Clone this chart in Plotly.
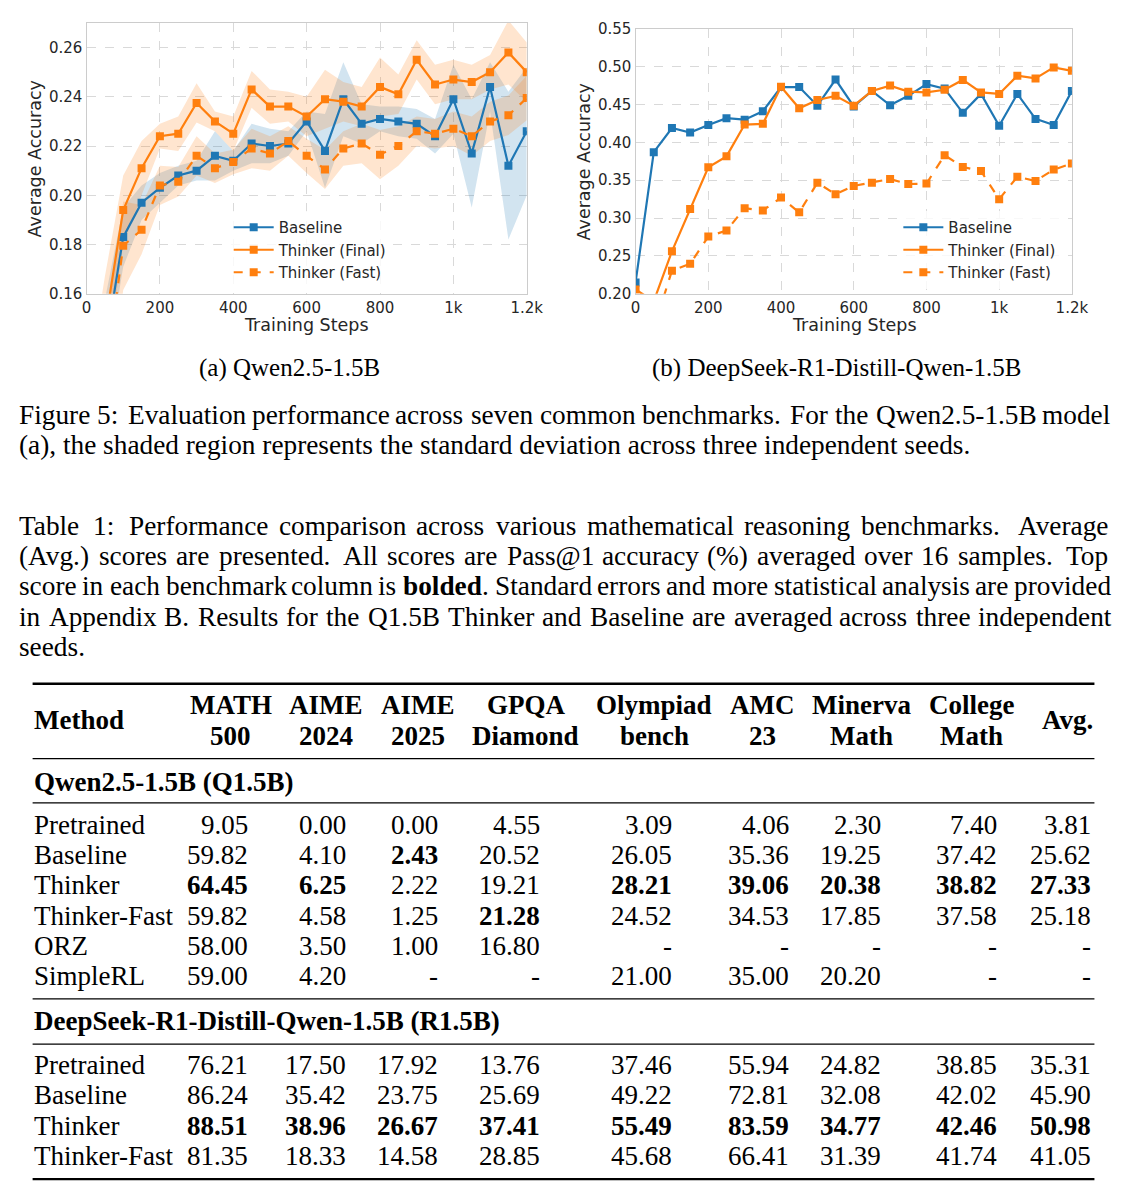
import numpy as np
import plotly.graph_objects as go

# target picture is 1141x1203; the page body has an 8px margin, so the
# figure is made 16px smaller and every position is shifted by 8px.
W, H = 1141, 1203
OFF = 8
FW, FH = W - 2 * OFF, H - 2 * OFF

# ---------------- data: charts ----------------
steps = [0, 50, 100, 150, 200, 250, 300, 350, 400, 450, 500, 550, 600,
         650, 700, 750, 800, 850, 900, 950, 1000, 1050, 1100, 1150, 1200]
x_tickvals = [0, 200, 400, 600, 800, 1000, 1200]
x_ticktext = ["0", "200", "400", "600", "800", "1k", "1.2k"]

# (a) Qwen2.5-1.5B
qa_baseline = [0.100, 0.137, 0.183, 0.197, 0.203, 0.208, 0.210, 0.216, 0.214, 0.221, 0.220, 0.221, 0.230,
               0.218, 0.239, 0.229, 0.231, 0.230, 0.229, 0.224, 0.239, 0.217, 0.244, 0.212, 0.226]
qa_final = [0.100, 0.147, 0.194, 0.211, 0.224, 0.225, 0.2375, 0.230, 0.225, 0.243, 0.236, 0.236, 0.232,
            0.239, 0.238, 0.236, 0.244, 0.241, 0.255, 0.245, 0.247, 0.246, 0.250, 0.258, 0.250]
qa_fast = [0.100, 0.123, 0.1795, 0.186, 0.204, 0.2055, 0.216, 0.211, 0.2135, 0.219, 0.217, 0.222, 0.216,
           0.2105, 0.219, 0.221, 0.2165, 0.220, 0.226, 0.225, 0.227, 0.224, 0.230, 0.2325, 0.2395]
qa_baseline_std = [0.02, 0.02, 0.012, 0.007, 0.006, 0.004, 0.004, 0.010, 0.004, 0.008, 0.007, 0.005, 0.004,
                   0.015, 0.015, 0.008, 0.005, 0.006, 0.006, 0.007, 0.014, 0.022, 0.010, 0.030, 0.026]
qa_final_std = [0.02, 0.02, 0.014, 0.011, 0.005, 0.007, 0.008, 0.004, 0.007, 0.0075, 0.007, 0.006, 0.008,
                0.012, 0.008, 0.008, 0.012, 0.008, 0.008, 0.008, 0.008, 0.007, 0.007, 0.013, 0.012]
qa_fast_std = [0.02, 0.02, 0.018, 0.010, 0.008, 0.006, 0.008, 0.006, 0.005, 0.008, 0.007, 0.006, 0.007,
               0.008, 0.007, 0.008, 0.010, 0.008, 0.006, 0.006, 0.007, 0.008, 0.008, 0.008, 0.009]
qa_yticks = [0.16, 0.18, 0.20, 0.22, 0.24, 0.26]

# (b) DeepSeek-R1-Distill-Qwen-1.5B
rb_baseline = [0.215, 0.387, 0.419, 0.413, 0.423, 0.432, 0.430, 0.441, 0.473, 0.473, 0.4485, 0.483, 0.4475,
               0.468, 0.449, 0.4615, 0.477, 0.471, 0.439, 0.464, 0.422, 0.464, 0.431, 0.423, 0.468]
rb_final = [0.2057, 0.190, 0.256, 0.312, 0.367, 0.3815, 0.4235, 0.4245, 0.4735, 0.445, 0.456, 0.4615, 0.4485,
            0.468, 0.475, 0.467, 0.466, 0.4695, 0.4825, 0.466, 0.464, 0.488, 0.4845, 0.499, 0.4945]
rb_fast = [0.140, 0.154, 0.2305, 0.2395, 0.2755, 0.2835, 0.313, 0.310, 0.327, 0.3075, 0.3465, 0.3315, 0.3425,
           0.3465, 0.3515, 0.345, 0.3455, 0.383, 0.3675, 0.362, 0.325, 0.3545, 0.349, 0.364, 0.372]
rb_yticks = [0.20, 0.25, 0.30, 0.35, 0.40, 0.45, 0.50, 0.55]

series_names = ["Baseline", "Thinker (Final)", "Thinker (Fast)"]

# ---------------- data: table ----------------
col_top = ["MATH", "AIME", "AIME", "GPQA", "Olympiad", "AMC", "Minerva", "College"]
col_bottom = ["500", "2024", "2025", "Diamond", "bench", "23", "Math", "Math"]
avg_label = "Avg."
group1_title = "Qwen2.5-1.5B (Q1.5B)"
group1_methods = ["Pretrained", "Baseline", "Thinker", "Thinker-Fast", "ORZ", "SimpleRL"]
group1_values = [
    [9.05, 0.00, 0.00, 4.55, 3.09, 4.06, 2.30, 7.40, 3.81],
    [59.82, 4.10, 2.43, 20.52, 26.05, 35.36, 19.25, 37.42, 25.62],
    [64.45, 6.25, 2.22, 19.21, 28.21, 39.06, 20.38, 38.82, 27.33],
    [59.82, 4.58, 1.25, 21.28, 24.52, 34.53, 17.85, 37.58, 25.18],
    [58.00, 3.50, 1.00, 16.80, None, None, None, None, None],
    [59.00, 4.20, None, None, 21.00, 35.00, 20.20, None, None],
]
group2_title = "DeepSeek-R1-Distill-Qwen-1.5B (R1.5B)"
group2_methods = ["Pretrained", "Baseline", "Thinker", "Thinker-Fast"]
group2_values = [
    [76.21, 17.50, 17.92, 13.76, 37.46, 55.94, 24.82, 38.85, 35.31],
    [86.24, 35.42, 23.75, 25.69, 49.22, 72.81, 32.08, 42.02, 45.90],
    [88.51, 38.96, 26.67, 37.41, 55.49, 83.59, 34.77, 42.46, 50.98],
    [81.35, 18.33, 14.58, 28.85, 45.68, 66.41, 31.39, 41.74, 41.05],
]

fig_caption = [
    "Figure 5: Evaluation performance across seven common benchmarks. For the Qwen2.5-1.5B model",
    "(a), the shaded region represents the standard deviation across three independent seeds.",
]
table_caption = [
    "Table 1: Performance comparison across various mathematical reasoning benchmarks. Average",
    "(Avg.) scores are presented. All scores are Pass@1 accuracy (%) averaged over 16 samples. Top",
    "score in each benchmark column is <b>bolded</b>. Standard errors and more statistical analysis are provided",
    "in Appendix B. Results for the Q1.5B Thinker and Baseline are averaged across three independent",
    "seeds.",
]

# ---------------- styling / layout helpers ----------------
BLUE = "#1f77b4"
ORANGE = "#ff7f0e"
BLUE_FILL = "rgba(31,119,180,0.2)"
ORANGE_FILL = "rgba(255,127,14,0.2)"
SANS = "DejaVu Sans"
SERIF = "Liberation Serif"

# Times-compatible advance widths (1/1000 em) used to justify caption lines
TIMES = dict(zip("abcdefghijklmnopqrstuvwxyz",
                 [444, 500, 444, 500, 444, 333, 500, 500, 278, 278, 500, 278, 778, 500, 500, 500, 500,
                  333, 389, 278, 500, 500, 722, 500, 500, 444]))
TIMES.update(dict(zip("ABCDEFGHIJKLMNOPQRSTUVWXYZ",
                      [722, 667, 667, 722, 611, 556, 722, 722, 333, 389, 722, 611, 889, 722, 722, 556,
                       722, 667, 556, 611, 722, 722, 944, 722, 722, 611])))
TIMES.update({c: 500 for c in "0123456789"})
TIMES.update({".": 250, ",": 250, ":": 278, "(": 333, ")": 333, "%": 833, "@": 921, "-": 333})
TIMES_BOLD = {"b": 556, "o": 500, "l": 278, "d": 556, "e": 444}


def px(x):
    return (x - OFF) / FW


def py(y):
    return 1 - (y - OFF) / FH


fig = go.Figure()


def band(xs, mean, std, color, xa, ya):
    m = np.array(mean)
    s = np.array(std)
    up = m + s
    lo = m - s
    fig.add_trace(go.Scatter(
        x=list(xs) + list(xs)[::-1], y=list(up) + list(lo[::-1]),
        fill="toself", fillcolor=color, line=dict(width=0), mode="lines",
        hoverinfo="skip", showlegend=False, xaxis=xa, yaxis=ya))


def line(xs, ys, name, color, dash, xa, ya, legend):
    fig.add_trace(go.Scatter(
        x=xs, y=ys, name=name, mode="lines+markers",
        line=dict(color=color, width=2.2, dash=dash),
        marker=dict(symbol="square", size=8, color=color),
        xaxis=xa, yaxis=ya, legend=legend))


# (a)
band(steps, qa_baseline, qa_baseline_std, BLUE_FILL, "x", "y")
band(steps, qa_final, qa_final_std, ORANGE_FILL, "x", "y")
band(steps, qa_fast, qa_fast_std, ORANGE_FILL, "x", "y")
line(steps, qa_baseline, series_names[0], BLUE, "solid", "x", "y", "legend")
line(steps, qa_final, series_names[1], ORANGE, "solid", "x", "y", "legend")
line(steps, qa_fast, series_names[2], ORANGE, "dash", "x", "y", "legend")

# (b)
line(steps, rb_baseline, series_names[0], BLUE, "solid", "x2", "y2", "legend2")
line(steps, rb_final, series_names[1], ORANGE, "solid", "x2", "y2", "legend2")
line(steps, rb_fast, series_names[2], ORANGE, "dash", "x2", "y2", "legend2")


def axstyle(**kw):
    d = dict(showline=True, mirror=True, linecolor="#cccccc", linewidth=1.3,
             showgrid=True, gridcolor="#d9d9d9", griddash="dash", gridwidth=1,
             zeroline=False, ticks="", tickfont=dict(family=SANS, size=15, color="#262626"))
    d.update(kw)
    return d


legend_common = dict(font=dict(family=SANS, size=15, color="#262626"),
                     bgcolor="rgba(255,255,255,0.8)", borderwidth=0, itemwidth=40,
                     xanchor="left", yanchor="top", tracegroupgap=0)

fig.update_layout(
    width=FW, height=FH, margin=dict(l=0, r=0, t=0, b=0),
    paper_bgcolor="white", plot_bgcolor="white",
    xaxis=axstyle(domain=[px(83), px(532)], range=[0, 1200], tickvals=x_tickvals,
                  ticktext=x_ticktext, anchor="y"),
    yaxis=axstyle(domain=[py(289), py(14)], range=[0.16, 0.27], tickvals=qa_yticks,
                  tickformat=".2f", anchor="x"),
    xaxis2=axstyle(domain=[px(643), px(1088)], range=[0, 1200], tickvals=x_tickvals,
                   ticktext=x_ticktext, anchor="y2"),
    yaxis2=axstyle(domain=[py(289), py(20)], range=[0.20, 0.55], tickvals=rb_yticks,
                   tickformat=".2f", anchor="x2"),
    legend=dict(x=px(228), y=py(205), **legend_common),
    legend2=dict(x=px(911), y=py(205), **legend_common),
    showlegend=True,
)

ann = []


def text(x, y, s, size, family=SERIF, xanchor="left", color="black", angle=0):
    ann.append(dict(x=px(x), y=py(y), xref="paper", yref="paper", text=s, showarrow=False,
                    xanchor=xanchor, yanchor="middle", textangle=angle, borderpad=0,
                    font=dict(family=family, size=size, color=color)))


def strip_tags(tok):
    return tok.replace("<b>", "").replace("</b>", "")


def word_width(tok, size):
    w = 0
    bold = False
    i = 0
    while i < len(tok):
        if tok.startswith("<b>", i):
            bold = True
            i += 3
            continue
        if tok.startswith("</b>", i):
            bold = False
            i += 4
            continue
        ch = tok[i]
        tbl = TIMES_BOLD if bold else TIMES
        w += tbl.get(ch, TIMES.get(ch, 500))
        i += 1
    return w * size / 1000.0


def space_after(tok):
    """natural gap (em) and stretch weight after a word, TeX-like."""
    t = strip_tags(tok)
    if t.endswith(".") and len(t) > 1 and t[-2].islower():
        return 0.30, 2.2
    if t.endswith(":"):
        return 0.27, 1.4
    return 0.25, 1.0


def justified(line_text, x0, x1, y, size):
    words = line_text.split()
    widths = [word_width(wd, size) for wd in words]
    gaps = [space_after(wd) for wd in words[:-1]]
    natural = sum(widths) + sum(g[0] * size for g in gaps)
    extra = x1 - x0 - natural
    if extra >= 0:
        wsum = sum(g[1] for g in gaps)
        gap_px = [g[0] * size + extra * g[1] / wsum for g in gaps]
    else:
        gap_px = [g[0] * size + extra / len(gaps) for g in gaps]
    x = x0
    for k, (wd, ww) in enumerate(zip(words, widths)):
        text(x, y, wd, size)
        if k < len(gap_px):
            x += ww + gap_px[k]


# axis titles
text(30, 152, "Average Accuracy", 17.5, SANS, "center", "#262626", -90)
text(590, 155, "Average Accuracy", 17.5, SANS, "center", "#262626", -90)
text(307, 321, "Training Steps", 17.5, SANS, "center", "#262626")
text(866, 321, "Training Steps", 17.5, SANS, "center", "#262626")

# sub captions
text(290, 364, "(a) Qwen2.5-1.5B", 25, SERIF, "center")
text(848, 364, "(b) DeepSeek-R1-Distill-Qwen-1.5B", 25, SERIF, "center")

# captions
CS = 27.3
LX0, LX1 = 13, 1125
justified(fig_caption[0], LX0, LX1, 412, CS)
text(LX0, 443, fig_caption[1], CS)
for i, s in enumerate(table_caption):
    yy = 525 + 30.6 * i
    if i < len(table_caption) - 1:
        justified(s, LX0, LX1, yy, CS)
    else:
        text(LX0, yy, s, CS)

# table
col_center = [230, 327, 421, 531, 662, 772, 873, 986]
col_right = [249, 349, 442, 547, 681, 800, 894, 1013, 1109]
TS = 27
text(28, 722, "<b>Method</b>", TS)
for c, t, b in zip(col_center, col_top, col_bottom):
    text(c, 707, "<b>%s</b>" % t, TS, SERIF, "center")
    text(c, 738, "<b>%s</b>" % b, TS, SERIF, "center")
text(1084, 722, "<b>%s</b>" % avg_label, TS, SERIF, "center")


def draw_group(title, ytitle, methods, values, y0):
    text(28, ytitle, "<b>%s</b>" % title, TS)
    ncol = len(values[0])
    best = []
    for j in range(ncol):
        col = [r[j] for r in values if r[j] is not None]
        best.append(max(col))
    for i, (m, row) in enumerate(zip(methods, values)):
        yy = y0 + 30.8 * i
        text(28, yy, m, TS)
        for j, v in enumerate(row):
            if v is None:
                s = "-"
            else:
                s = "%.2f" % v
                if v == best[j]:
                    s = "<b>%s</b>" % s
            text(col_right[j], yy, s, TS, SERIF, "right")


draw_group(group1_title, 785, group1_methods, group1_values, 828)
draw_group(group2_title, 1027, group2_methods, group2_values, 1072)

fig.update_layout(annotations=ann)

# rules
shapes = []
for yline, w in [(685, 2.4), (761, 1.3), (806, 1.3), (1005, 1.3), (1051, 1.3), (1188, 2.4)]:
    shapes.append(dict(type="line", xref="paper", yref="paper", x0=px(28), x1=px(1111),
                       y0=py(yline), y1=py(yline), line=dict(color="black", width=w)))
fig.update_layout(shapes=shapes)

fig.write_html("out.html")
